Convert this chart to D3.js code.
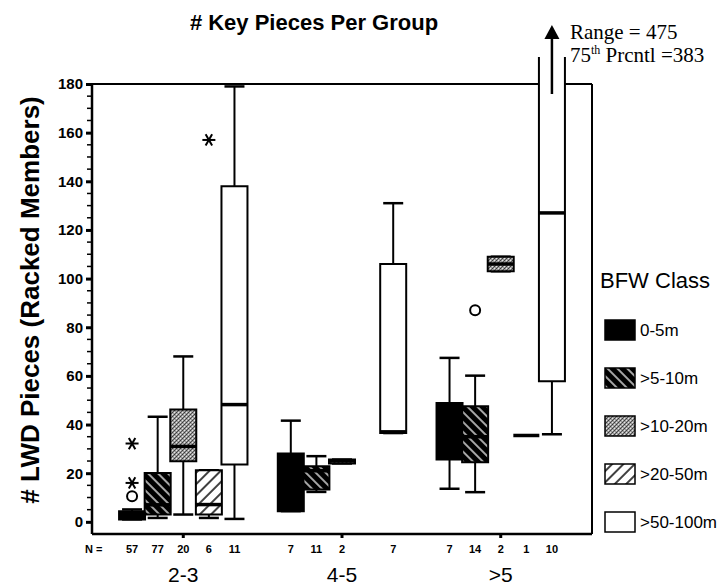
<!DOCTYPE html>
<html>
<head>
<meta charset="utf-8">
<script src="https://cdn.jsdelivr.net/npm/d3@7"></script>
<style>
  html, body { margin: 0; padding: 0; background: #fff; }
  svg { display: block; font-family: "Liberation Sans", Arial, sans-serif; }
  text { fill: #000; }
  .serif { font-family: "Liberation Serif", "Times New Roman", serif; }
</style>
</head>
<body>
<svg id="chart" width="721" height="588"></svg>
<script>
// Stream channel width groups and bankfull-width classes
const groups = ["2-3", "4-5", ">5"];
const classes = ["0-5m", ">5-10m", ">10-20m", ">20-50m", ">50-100m"];

// Sample sizes per group (rows) and class (columns); null = no data
const counts = [
  [57, 77, 20, 6, 11],
  [7, 11, 2, null, 7],
  [7, 14, 2, 1, 10]
];

// Box-plot statistics, # LWD pieces
const whiskerLow = [
  [1.0, 1.6, 3.0, 1.6, 1.2],
  [4.4, 12.3, 24.0, null, 36.5],
  [13.6, 12.2, 103.0, 35.5, 36.0]
];
const quartile1 = [
  [1.0, 3.0, 24.9, 3.0, 23.6],
  [4.4, 13.3, 24.0, null, 36.5],
  [25.6, 24.5, 103.0, 35.5, 57.8]
];
const medians = [
  [2.5, 7.0, 31.0, 7.1, 48.2],
  [16.0, 21.0, 25.0, null, 37.0],
  [36.0, 35.0, 106.0, 35.5, 127.0]
];
const quartile3 = [
  [4.4, 20.1, 46.2, 21.2, 138.0],
  [28.1, 22.9, 25.6, null, 106.0],
  [48.9, 47.5, 109.0, 35.5, 383.0]
];
const whiskerHigh = [
  [5.1, 43.2, 68.0, 21.2, 179.0],
  [41.6, 27.0, 25.6, null, 131.0],
  [67.4, 60.1, 109.0, 35.5, 475.0]
];

// Outliers (circle) and extremes (asterisk)
const outlierGroup = ["2-3", "2-3", "2-3", "2-3", ">5"];
const outlierClass = ["0-5m", "0-5m", "0-5m", ">20-50m", ">5-10m"];
const outlierValue = [10.5, 16, 32.2, 157, 87];
const outlierKind  = ["circle", "star", "star", "star", "circle"];

const yTicks = [0, 20, 40, 60, 80, 100, 120, 140, 160, 180];
const yDomain = [-5, 180];

const plot = { left: 92, right: 592, top: 84, bottom: 534 };

const svg = d3.select("#chart");

// ---- fill patterns ----
const defs = svg.append("defs");

const hatchDark = defs.append("pattern").attr("id", "hatchDark")
  .attr("patternUnits", "userSpaceOnUse").attr("width", 7).attr("height", 7)
  .attr("patternTransform", "rotate(-45)");
hatchDark.append("rect").attr("width", 7).attr("height", 7).attr("fill", "#000");
hatchDark.append("line").attr("x1", 1).attr("y1", 0).attr("x2", 1).attr("y2", 7)
  .attr("stroke", "#fff").attr("stroke-width", 1.3);

const stipple = defs.append("pattern").attr("id", "stipple")
  .attr("patternUnits", "userSpaceOnUse").attr("width", 4).attr("height", 4);
stipple.append("rect").attr("width", 4).attr("height", 4).attr("fill", "#9c9c9c");
[[0, 0, "#3a3a3a"], [2, 2, "#3a3a3a"], [2, 0, "#e6e6e6"], [0, 2, "#e6e6e6"], [1, 3, "#555"], [3, 1, "#555"]]
  .forEach(([x, yy, c]) => stipple.append("rect").attr("x", x).attr("y", yy)
    .attr("width", 1).attr("height", 1).attr("fill", c));

const hatchLight = defs.append("pattern").attr("id", "hatchLight")
  .attr("patternUnits", "userSpaceOnUse").attr("width", 8).attr("height", 8)
  .attr("patternTransform", "rotate(45)");
hatchLight.append("rect").attr("width", 8).attr("height", 8).attr("fill", "#fff");
hatchLight.append("line").attr("x1", 1).attr("y1", 0).attr("x2", 1).attr("y2", 8)
  .attr("stroke", "#000").attr("stroke-width", 1.5);

const classFill = d3.scaleOrdinal()
  .domain(classes)
  .range(["#000", "url(#hatchDark)", "url(#stipple)", "url(#hatchLight)", "#fff"]);

// ---- scales ----
const y = d3.scaleLinear().domain(yDomain).range([plot.bottom, plot.top]);
const xGroup = d3.scalePoint().domain(groups).range([plot.left, plot.right]).padding(0.575);
const xClass = d3.scaleBand().domain(classes).range([-64, 64]);
const boxW = 26, capW = 20;
const cx = (g, c) => xGroup(g) + xClass(c) + xClass.bandwidth() / 2;

// ---- titles ----
svg.append("text").attr("x", 314).attr("y", 30).attr("text-anchor", "middle")
  .attr("font-size", 22).attr("font-weight", "bold").text("# Key Pieces Per Group");

svg.append("text").attr("transform", "translate(39,300) rotate(-90)")
  .attr("text-anchor", "middle").attr("font-size", 26).attr("font-weight", "bold")
  .text("# LWD Pieces (Racked Members)");

// ---- frame ----
const frame = svg.append("g").attr("fill", "none").attr("stroke", "#000");
frame.append("line").attr("x1", plot.left).attr("x2", plot.right)
  .attr("y1", plot.top).attr("y2", plot.top).attr("stroke-width", 2);
frame.append("line").attr("x1", plot.right).attr("x2", plot.right)
  .attr("y1", plot.top).attr("y2", plot.bottom).attr("stroke-width", 2);
frame.append("line").attr("x1", plot.left).attr("x2", plot.right)
  .attr("y1", plot.bottom).attr("y2", plot.bottom).attr("stroke-width", 2.5);

// ---- y axis ----
const yAxis = d3.axisLeft(y).tickValues(yTicks).tickSize(6).tickPadding(3);
const gy = svg.append("g").attr("transform", `translate(${plot.left},0)`).call(yAxis);
gy.attr("font-family", null);
gy.select(".domain").attr("stroke-width", 2.5).attr("d", `M0,${plot.bottom}V${plot.top}`);
gy.selectAll(".tick line").attr("stroke-width", 3);
gy.selectAll(".tick text").attr("font-size", 15).attr("font-weight", "bold");
const minorTicks = d3.range(0, 181, 5).filter(v => v % 20 !== 0);
svg.append("g").selectAll("line").data(minorTicks).join("line")
  .attr("x1", plot.left - 5).attr("x2", plot.left)
  .attr("y1", d => y(d)).attr("y2", d => y(d))
  .attr("stroke", "#000").attr("stroke-width", 1.5);

// x ticks at group centres
svg.append("g").selectAll("line").data(groups).join("line")
  .attr("x1", d => xGroup(d)).attr("x2", d => xGroup(d))
  .attr("y1", plot.bottom).attr("y2", plot.bottom + 4)
  .attr("stroke", "#000").attr("stroke-width", 3);

// ---- boxes ----
const boxes = [];
groups.forEach((g, gi) => classes.forEach((c, ci) => {
  if (counts[gi][ci] == null) return;
  boxes.push({
    g, c, n: counts[gi][ci],
    lo: whiskerLow[gi][ci], q1: quartile1[gi][ci], med: medians[gi][ci],
    q3: quartile3[gi][ci], hi: whiskerHigh[gi][ci]
  });
}));

const overflow = 27;   // how far an off-scale box rises above the frame
const yMax = yDomain[1];
const bg = svg.append("g");
boxes.forEach(b => {
  const x0 = cx(b.g, b.c);
  const g = bg.append("g");
  const clipped = b.q3 > yMax;
  // whiskers
  g.append("line").attr("x1", x0).attr("x2", x0).attr("y1", y(b.lo)).attr("y2", y(b.q1))
    .attr("stroke", "#000").attr("stroke-width", 2);
  g.append("line").attr("x1", x0 - capW / 2).attr("x2", x0 + capW / 2)
    .attr("y1", y(b.lo)).attr("y2", y(b.lo)).attr("stroke", "#000").attr("stroke-width", 2.5);
  if (!clipped) {
    g.append("line").attr("x1", x0).attr("x2", x0).attr("y1", y(b.q3)).attr("y2", y(b.hi))
      .attr("stroke", "#000").attr("stroke-width", 2);
    g.append("line").attr("x1", x0 - capW / 2).attr("x2", x0 + capW / 2)
      .attr("y1", y(b.hi)).attr("y2", y(b.hi)).attr("stroke", "#000").attr("stroke-width", 2.5);
  }
  const top = clipped ? plot.top - overflow : y(b.q3);
  const bot = y(b.q1);
  if (bot - top > 0.5) {
    g.append("rect").attr("x", x0 - boxW / 2).attr("y", top)
      .attr("width", boxW).attr("height", bot - top)
      .attr("fill", classFill(b.c)).attr("stroke", "none");
    const edges = clipped
      ? `M${x0 - boxW / 2},${top}V${bot}H${x0 + boxW / 2}V${top}`
      : `M${x0 - boxW / 2},${top}V${bot}H${x0 + boxW / 2}V${top}Z`;
    g.append("path").attr("d", edges).attr("fill", "none")
      .attr("stroke", "#000").attr("stroke-width", 2);
  }
  // median
  g.append("line").attr("x1", x0 - boxW / 2).attr("x2", x0 + boxW / 2)
    .attr("y1", y(b.med)).attr("y2", y(b.med))
    .attr("stroke", "#000").attr("stroke-width", 3.5);

  if (clipped) {
    // arrow for the off-scale box, with its range and 75th percentile
    const shaftBottom = plot.top + 10, headBase = plot.top - 45, tip = plot.top - 59;
    g.append("line").attr("x1", x0).attr("x2", x0).attr("y1", shaftBottom).attr("y2", headBase)
      .attr("stroke", "#000").attr("stroke-width", 2.5);
    g.append("path").attr("d", `M${x0},${tip}L${x0 - 7.5},${headBase}L${x0 + 7.5},${headBase}Z`)
      .attr("fill", "#000");
    const tx = x0 + boxW / 2 + 5;
    g.append("text").attr("class", "serif").attr("x", tx).attr("y", plot.top - 45)
      .attr("font-size", 21).text(`Range = ${b.hi}`);
    const t2 = g.append("text").attr("class", "serif").attr("x", tx).attr("y", plot.top - 22)
      .attr("font-size", 21);
    t2.append("tspan").text("75");
    t2.append("tspan").attr("font-size", 12).attr("dy", -8).text("th");
    t2.append("tspan").attr("dy", 8).text(` Prcntl =${b.q3}`);
  }
});

// outliers and extremes
outlierValue.forEach((v, i) => {
  const x0 = cx(outlierGroup[i], outlierClass[i]);
  const y0 = y(v);
  if (outlierKind[i] === "circle") {
    bg.append("circle").attr("cx", x0).attr("cy", y0).attr("r", 5)
      .attr("fill", "none").attr("stroke", "#000").attr("stroke-width", 2);
  } else {
    const r = 6.5;
    [0, 60, -60].forEach(a => {
      const rad = a * Math.PI / 180;
      bg.append("line")
        .attr("x1", x0 - r * Math.cos(rad)).attr("y1", y0 - r * Math.sin(rad))
        .attr("x2", x0 + r * Math.cos(rad)).attr("y2", y0 + r * Math.sin(rad))
        .attr("stroke", "#000").attr("stroke-width", 2);
    });
  }
});

// ---- N row and group labels ----
svg.append("text").attr("x", 85).attr("y", 553).attr("font-size", 11)
  .attr("font-weight", "bold").text("N =");
svg.append("g").selectAll("text").data(boxes).join("text")
  .attr("x", d => cx(d.g, d.c)).attr("y", 553).attr("text-anchor", "middle")
  .attr("font-size", 11).attr("font-weight", "bold").text(d => d.n);
svg.append("g").selectAll("text").data(groups).join("text")
  .attr("x", d => xGroup(d)).attr("y", 582).attr("text-anchor", "middle")
  .attr("font-size", 21).text(d => d);

// ---- legend ----
const lg = svg.append("g");
lg.append("text").attr("x", 600).attr("y", 288).attr("font-size", 22).text("BFW Class");
classes.forEach((c, i) => {
  const yc = 330 + i * 48;
  lg.append("rect").attr("x", 605).attr("y", yc - 10).attr("width", 30).attr("height", 20)
    .attr("fill", classFill(c)).attr("stroke", "#000").attr("stroke-width", 1.5);
  lg.append("text").attr("x", 640).attr("y", yc + 6).attr("font-size", 17).text(c);
});
</script>
</body>
</html>
